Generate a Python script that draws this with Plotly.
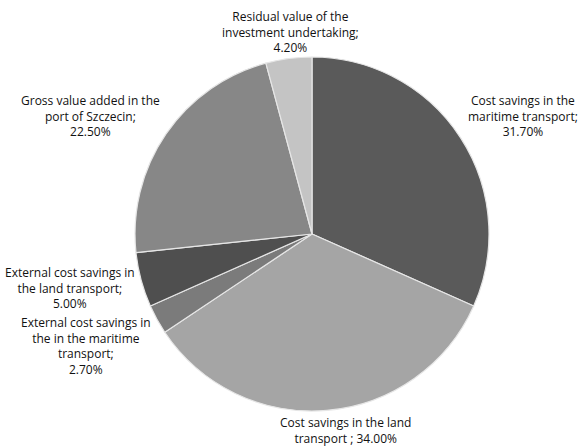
import plotly.graph_objects as go

# Shares of the project benefits (percent)
labels = [
    "Cost savings in the<br>maritime transport;",
    "Cost savings in the land<br>transport ;",
    "External cost savings in<br>the in the maritime<br>transport;",
    "External cost savings in<br>the land transport;",
    "Gross value added in the<br>port of Szczecin;",
    "Residual value of the<br>investment undertaking;",
]
values = [31.70, 34.00, 2.70, 5.00, 22.50, 4.20]
colors = ["#5a5a5a", "#a5a5a5", "#7b7b7b", "#4f4f4f", "#878787", "#c4c4c4"]

# Label anchor points in paper coordinates (x, y) for each slice
label_pos = [
    (0.905, 0.740),
    (0.597, 0.040),
    (0.149, 0.227),
    (0.121, 0.357),
    (0.156, 0.740),
    (0.502, 0.928),
]

W, H = 578, 448
cx, cy, r = 312, 234, 177

fig = go.Figure(
    go.Pie(
        labels=labels,
        values=values,
        sort=False,
        direction="clockwise",
        rotation=0,
        textinfo="none",
        hoverinfo="label+value",
        marker=dict(colors=colors, line=dict(color="#e6e6e6", width=1.2)),
        domain=dict(
            x=[(cx - r) / W, (cx + r) / W],
            y=[(H - cy - r) / H, (H - cy + r) / H],
        ),
        showlegend=False,
    )
)

annotations = []
for lab, val, (ax, ay) in zip(labels, values, label_pos):
    sep = " " if lab.endswith(" ;") else "<br>"
    annotations.append(
        dict(
            x=ax,
            y=ay,
            xref="paper",
            yref="paper",
            text=f"{lab}{sep}{val:.2f}%",
            showarrow=False,
            align="center",
            xanchor="center",
            yanchor="middle",
            font=dict(family="Open Sans, sans-serif", size=12, color="#111111"),
        )
    )

fig.update_layout(
    width=W,
    height=H,
    margin=dict(l=0, r=0, t=0, b=0),
    paper_bgcolor="white",
    plot_bgcolor="white",
    annotations=annotations,
)

fig.write_html("out.html")
